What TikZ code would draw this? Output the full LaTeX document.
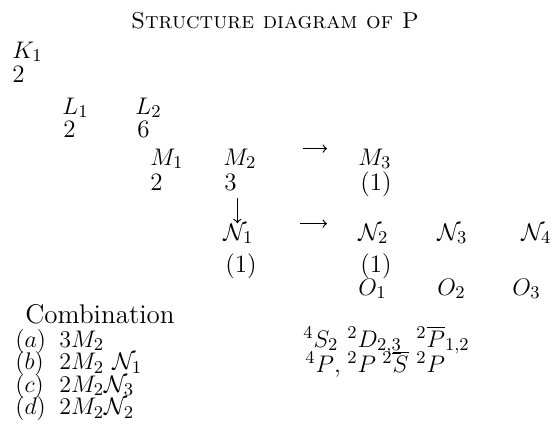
\documentclass[tikz,border=0pt]{standalone}
\usetikzlibrary{calc}

\tikzset{
    txt/.style={anchor=base west, inner sep=0pt, font=\fontsize{12.5}{15}\selectfont},
    arr/.style={->, semithick},
}

\begin{document}
\begin{tikzpicture}[x=0.5pt, y=-0.5pt]
    \useasboundingbox (0,0) rectangle (551,436);

    \node[txt, anchor=base, font=\fontsize{11.5}{14}\selectfont] (title) at (275,28) {\textsc{Structure diagram of P}};

    % shells with their counts
    \node[txt] (k1) at (12,58) {$K_1$};
    \node[txt] (k1-n) at (12,82) {2};

    \node[txt] (l1) at (62,114) {$L_1$};
    \node[txt] (l1-n) at (63,137) {2};
    \node[txt] (l2) at (135,114) {$L_2$};
    \node[txt] (l2-n) at (137,137) {6};

    \node[txt] (m1) at (150,165) {$M_1$};
    \node[txt] (m1-n) at (150,190) {2};
    \node[txt] (m2) at (223,165) {$M_2$};
    \node[txt] (m2-n) at (224,190) {3};
    \node[txt] (m3) at (358,165) {$M_3$};
    \node[txt] (m3-n) at (360,190) {(1)};

    \node[txt] (n1) at (223,240) {$\mathcal{N}_1$};
    \node[txt] (n1-n) at (225,272) {(1)};
    \node[txt] (n2) at (358,240) {$\mathcal{N}_2$};
    \node[txt] (n2-n) at (360,272) {(1)};
    \node[txt] (n3) at (437,240) {$\mathcal{N}_3$};
    \node[txt] (n4) at (521,240) {$\mathcal{N}_4$};

    \node[txt] (o1) at (358,295) {$O_1$};
    \node[txt] (o2) at (437,295) {$O_2$};
    \node[txt] (o3) at (512,295) {$O_3$};

    \draw[arr, shorten <=23pt, shorten >=15.5pt] ([yshift=5pt]m2.east) -- ([yshift=5pt]m3.west);
    \draw[arr, shorten <=23pt, shorten >=15.5pt] ([yshift=5pt]n1.east) -- ([yshift=5pt]n2.west);
    \draw[arr] ($(n1.north |- m2-n.south)+(-1,7)$) -- ($(n1.north)+(-1,0)$);

    % combinations
    \node[txt, font=\fontsize{13.5}{16}\selectfont] (comb) at (25,323) {Combination};
    \foreach \tag/\f [count=\i] in {a/3M_2, b/2M_2\ \mathcal{N}_1, c/2M_2\mathcal{N}_3, d/2M_2\mathcal{N}_2} {
        \node[txt] (comb-\tag) at (15,{347+22.5*(\i-1)}) {$(\tag)$};
        \node[txt] (comb-\tag-f) at (59,{347+22.5*(\i-1)}) {$\f$};
    }

    % terms
    \node[txt] (t-s) at (303,347) {${}^4S_2$};
    \node[txt] (t-d) at (347,347) {${}^2D_{2,\underline{3}}$};
    \node[txt] (t-p) at (416,347) {${}^2\overline{P}_{1,2}$};
    \node[txt] (u-p4) at (305,372) {${}^4P$,};
    \node[txt] (u-p2) at (347,372) {${}^2P$};
    \node[txt] (u-s) at (382,372) {${}^2\overline{S}$};
    \node[txt] (u-p) at (416,372) {${}^2P$};
\end{tikzpicture}
\end{document}
